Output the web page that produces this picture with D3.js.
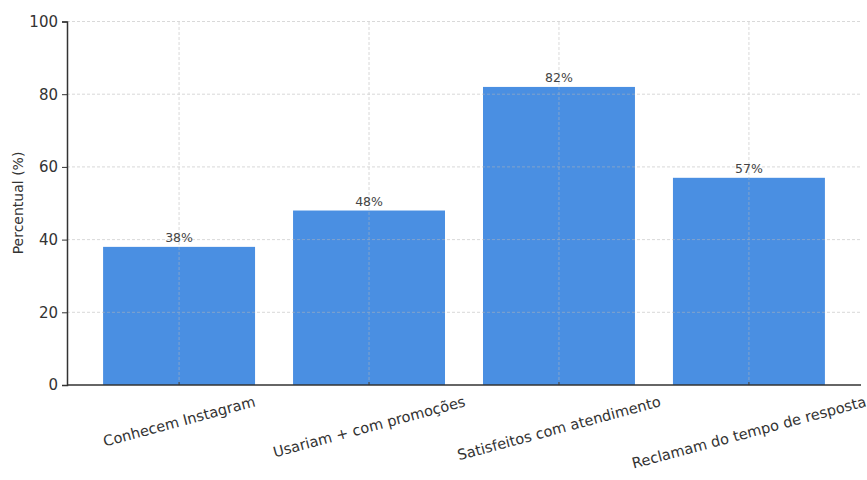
<!DOCTYPE html>
<html>
<head>
<meta charset="utf-8">
<script src="https://cdn.jsdelivr.net/npm/d3@7"></script>
<style>
	body { margin: 0; background: #fff; }
	text { font-family: "DejaVu Sans", sans-serif; }
</style>
</head>
<body>
<div id="chart-area"></div>
<script>
// Data
const categories = ["Conhecem Instagram", "Usariam + com promoções", "Satisfeitos com atendimento", "Reclamam do tempo de resposta"];
const values = [38, 48, 82, 57];
const yTicks = [0, 20, 40, 60, 80, 100];

// SVG Size
let width = 867,
	height = 480;
const margin = {left: 67, right: 6, top: 21.5, bottom: 95};

let svg = d3.select("#chart-area")
	.append("svg")
	.attr("width", width)
	.attr("height", height);

// Scales
const x = d3.scaleBand()
	.domain(categories)
	.range([margin.left, width - margin.right])
	.paddingInner(0.2)
	.paddingOuter(0.19);

const y = d3.scaleLinear()
	.domain([0, 100])
	.range([height - margin.bottom, margin.top]);

// Bars
svg.selectAll("rect.bar")
	.data(values)
	.enter()
	.append("rect")
	.attr("class", "bar")
	.attr("x", (d, i) => x(categories[i]))
	.attr("y", d => y(d))
	.attr("width", x.bandwidth())
	.attr("height", d => y(0) - y(d))
	.style("fill", "#4a8fe2");

// Grid (drawn on top, faint)
const grid = svg.append("g")
	.attr("stroke", "#b8b8b8")
	.attr("stroke-dasharray", "3,2")
	.attr("stroke-width", 0.8)
	.attr("opacity", 0.65);

grid.selectAll("line.h")
	.data(yTicks.slice(1))
	.enter()
	.append("line")
	.attr("x1", margin.left)
	.attr("x2", width - margin.right)
	.attr("y1", d => y(d))
	.attr("y2", d => y(d));

grid.selectAll("line.v")
	.data(categories)
	.enter()
	.append("line")
	.attr("x1", d => x(d) + x.bandwidth() / 2)
	.attr("x2", d => x(d) + x.bandwidth() / 2)
	.attr("y1", y(0))
	.attr("y2", y(100));

// Value labels
svg.selectAll("text.value")
	.data(values)
	.enter()
	.append("text")
	.attr("class", "value")
	.attr("text-anchor", "middle")
	.attr("x", (d, i) => x(categories[i]) + x.bandwidth() / 2)
	.attr("y", d => y(d) - 5)
	.style("font-size", "12.5px")
	.style("fill", "#444")
	.text(d => d + "%");

// Y axis
const yAxis = d3.axisLeft(y).tickValues(yTicks).tickSize(5).tickPadding(4);
const yG = svg.append("g")
	.attr("transform", "translate(" + margin.left + ",0)")
	.call(yAxis);
yG.select(".domain").attr("stroke", "#333").attr("stroke-width", 1.5);
yG.selectAll(".tick line").attr("stroke", "#333");
yG.selectAll(".tick text").style("font-size", "15px").style("fill", "#333").style("font-family", "DejaVu Sans");

// X axis line
const xAxis = d3.axisBottom(x).tickSize(3).tickFormat("");
const xG = svg.append("g")
	.attr("transform", "translate(0," + y(0) + ")")
	.call(xAxis);
xG.select(".domain").attr("stroke", "#333").attr("stroke-width", 1.5).attr("d", "M" + margin.left + ",0H" + (width - margin.right));
xG.selectAll(".tick line").attr("stroke", "#333").attr("transform", "translate(0,-3)");

// X labels rotated 15 deg, centred under each bar
const fs = 14.6;
categories.forEach(c => {
	const cx = x(c) + x.bandwidth() / 2;
	const t = svg.append("text")
		.attr("text-anchor", "middle")
		.attr("dominant-baseline", "central")
		.style("font-size", fs + "px")
		.style("fill", "#333")
		.text(c);
	const L = t.node().getComputedTextLength();
	const rad = 15 * Math.PI / 180;
	const boxH = L * Math.sin(rad) + fs * 1.1 * Math.cos(rad);
	const cy = y(0) + 8 + boxH / 2;
	t.attr("x", cx).attr("y", cy)
		.attr("transform", "rotate(-15," + cx + "," + cy + ")");
});

// Y label
svg.append("text")
	.attr("text-anchor", "middle")
	.attr("transform", "rotate(-90)")
	.attr("x", -203)
	.attr("y", 23)
	.style("font-size", "14px")
	.style("fill", "#333")
	.text("Percentual (%)");
</script>
</body>
</html>
